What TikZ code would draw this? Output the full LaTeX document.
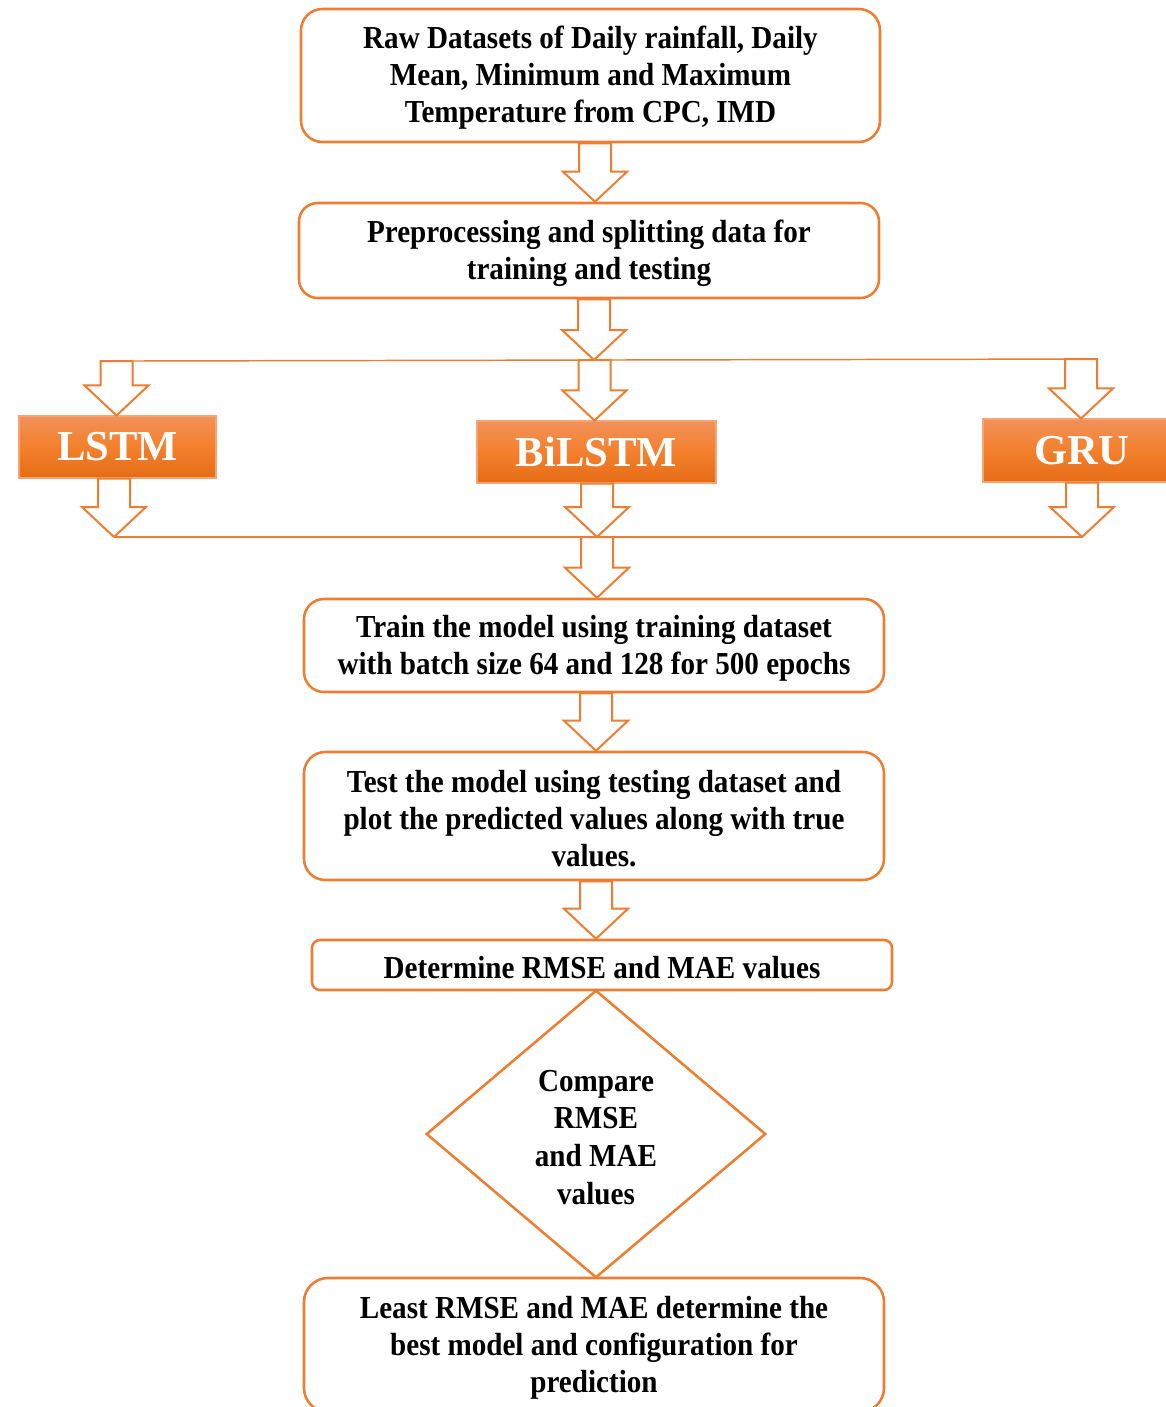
\documentclass[tikz,border=0pt]{standalone}
\usepackage{fontspec}
\setmainfont{Liberation Serif}[FakeStretch=0.91]
\newfontfamily\labfont{Liberation Serif}
\usetikzlibrary{calc}
\definecolor{org}{RGB}{237,125,49}
\definecolor{gtop}{RGB}{241,145,90}
\definecolor{gmid}{RGB}{244,128,44}
\definecolor{gbot}{RGB}{228,108,22}
\definecolor{gedge}{RGB}{245,165,115}
\newcommand\fl{\rule{0pt}{20.8pt}}
\tikzset{
  procbox/.style={draw=org, line width=1.9pt, fill=white, rounded corners=15pt,
    align=center, inner sep=0pt, minimum width=435pt,
    font=\fontsize{24}{27.75}\selectfont\bfseries},
  modelbox/.style={draw=gedge, line width=0.8pt, top color=gtop, bottom color=gbot,
    middle color=gmid, inner sep=0pt, minimum height=46.5pt, text=white,
    font=\labfont\fontsize{32}{36}\selectfont\bfseries},
  barr/.style={draw=org, line width=1.5pt, fill=white, line join=miter},
  bus/.style={draw=org, line width=1.1pt},
}
\newcommand\barrow[3]{%
  \draw[barr] let \p1=(#2), \p2=(#3) in
    (#1*0.75pt-12pt,\y1) -- (#1*0.75pt-12pt,\y2+22.5pt) -- (#1*0.75pt-24pt,\y2+22.5pt)
    -- (#1*0.75pt,\y2) -- (#1*0.75pt+24pt,\y2+22.5pt) -- (#1*0.75pt+12pt,\y2+22.5pt)
    -- (#1*0.75pt+12pt,\y1) -- cycle;}
\begin{document}
\begin{tikzpicture}[x=0.75pt,y=-0.75pt]
\clip (0,0) rectangle (1166,1407);
\fill[white] (0,0) rectangle (1166,1407);

% process boxes
\node[procbox, minimum width=434.25pt, minimum height=99.75pt, rounded corners=16pt] (b1) at (590.5,75.5)
  {\fl Raw Datasets of Daily rainfall, Daily\\Mean, Minimum and Maximum\\Temperature from CPC, IMD};
\node[procbox, minimum height=71.25pt, rounded corners=14pt] (b2) at (589,250.5)
  {\fl Preprocessing and splitting data for\\training and testing};
\node[procbox, minimum height=69.75pt] (b3) at (594,645.5)
  {\fl Train the model using training dataset\\with batch size 64 and 128 for 500 epochs};
\node[procbox, minimum height=96pt, rounded corners=16pt] (b4) at (594,816)
  {\fl Test the model using testing dataset and\\plot the predicted values along with true\\values.};
\node[procbox, minimum height=37.5pt, rounded corners=6pt] (b5) at (602,965)
  {\fl Determine RMSE and MAE values};
\node[procbox, minimum height=100.5pt, rounded corners=18pt] (b6) at (594,1345)
  {\fl Least RMSE and MAE determine the\\best model and configuration for\\prediction};

% decision
\node[inner sep=0pt, minimum width=253.5pt, minimum height=214.5pt, align=center,
  font=\fontsize{24}{28.2}\selectfont\bfseries] (dm) at (596,1134)
  {\fl Compare\\RMSE\\and MAE\\values};
\draw[draw=org, line width=1.9pt] (dm.north) -- (dm.east) -- (dm.south) -- (dm.west) -- cycle;

% models
\node[modelbox, minimum width=147.75pt] (lstm) at (117.5,447) {LSTM};
\node[modelbox, minimum width=179.25pt] (bilstm) at (596.5,452) {BiLSTM};
\node[modelbox, minimum width=147.75pt, minimum height=47.25pt] (gru) at (1081.5,450.5) {GRU};

% bus lines
\coordinate (tl) at (133,361);
\coordinate (tr) at (1097,359);
\coordinate (split) at (594,360);
\coordinate (bl) at (115,537);
\coordinate (br) at (1083,537);
\coordinate (merge) at (597,537);
\draw[bus] (tl) -- (tr);
\draw[bus] (bl) -- (br);

% block arrows
\barrow{595}{b1.south}{b2.north}
\barrow{594}{b2.south}{split}
\barrow{116.5}{tl}{lstm.north}
\barrow{594.5}{split}{bilstm.north}
\barrow{1081}{tr}{gru.north}
\barrow{114}{lstm.south}{bl}
\barrow{597}{bilstm.south}{merge}
\barrow{1082}{gru.south}{br}
\barrow{597}{merge}{b3.north}
\barrow{596}{b3.south}{b4.north}
\barrow{596}{b4.south}{b5.north}
\end{tikzpicture}
\end{document}
